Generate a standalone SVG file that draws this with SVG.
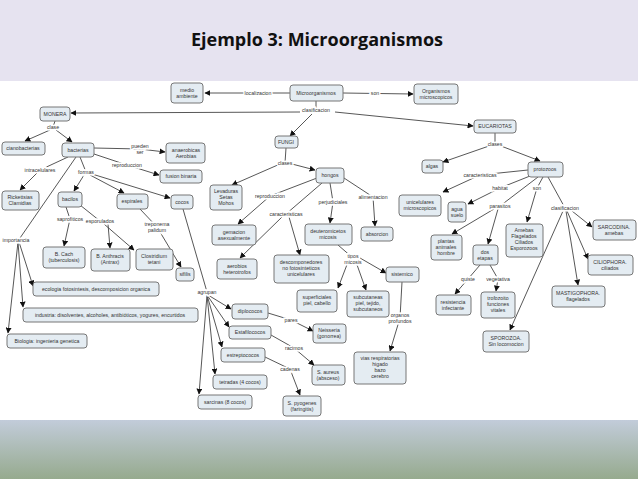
<svg xmlns="http://www.w3.org/2000/svg" width="638" height="479" viewBox="0 0 638 479">
<style>
.n rect{fill:#e4ecf2;stroke:#777;stroke-width:1}
text{font-family:"Liberation Sans",Arial,sans-serif;font-size:5.2px;fill:#333;text-anchor:middle}
.lb{paint-order:stroke;stroke:#fff;stroke-width:3px}
#c path{fill:none;stroke:#444;stroke-width:0.9}
.a{marker-end:url(#ar)}
</style>
<defs>
<marker id="ar" viewBox="0 0 10 10" refX="9" refY="5" markerWidth="6" markerHeight="6" orient="auto" markerUnits="userSpaceOnUse"><path d="M0,0 L10,5 L0,10 z" fill="#111"/></marker>
<linearGradient id="g" x1="0" y1="0" x2="0" y2="1"><stop offset="0" stop-color="#c2ccda"/><stop offset="1" stop-color="#96aa8e"/></linearGradient>
</defs>
<rect width="638" height="479" fill="#fff"/>
<rect width="638" height="81" fill="#e6e3f0"/>
<rect y="420" width="638" height="59" fill="url(#g)"/>
<text x="317" y="46" style="font-size:18px;font-weight:bold;fill:#111;text-anchor:middle;font-family:'Open Sans','Liberation Sans',sans-serif">Ejemplo 3: Microorganismos</text>

<g id="c">
<path class="a" d="M290,93 L205,93"/>
<path class="a" d="M343,93 L413,94"/>
<path d="M316,101 L316,110"/>
<path class="a" d="M300,112 L71,113"/>
<path class="a" d="M312,114 L290,136"/>
<path class="a" d="M335,112 L473,126"/>
<path d="M55,121 L53,127"/>
<path class="a" d="M50,130 L25,141"/>
<path class="a" d="M56,130 L72,142"/>
<path class="a" d="M94,148 L140,149 L165,152"/>
<path class="a" d="M94,154 L127,165 L159,175"/>
<path class="a" d="M68,157 L40,170 L20,190"/>
<path d="M80,157 L86,172"/>
<path class="a" d="M84,175 L74,191"/>
<path class="a" d="M90,175 L124,193"/>
<path class="a" d="M92,174 L170,198"/>
<path class="a" d="M66,207 L70,219 L64,246"/>
<path d="M80,205 L100,221"/>
<path class="a" d="M108,224 L110,248"/>
<path class="a" d="M104,224 L134,250"/>
<path class="a" d="M140,209 L157,227 L181,267"/>
<path d="M183,209 L207,292"/>
<path class="a" d="M208,295 L231,309"/>
<path class="a" d="M207,295 L229,327"/>
<path class="a" d="M207,295 L222,347"/>
<path class="a" d="M207,295 L215,374"/>
<path class="a" d="M207,295 L199,394"/>
<path d="M76,157 L20,238"/>
<path class="a" d="M19,242 L33,286"/>
<path class="a" d="M18,242 L23,307"/>
<path class="a" d="M18,242 L8,333"/>
<path class="a" d="M268,313 L291,320 L313,331"/>
<path class="a" d="M271,335 L294,348 L314,365"/>
<path class="a" d="M265,357 L290,369 L300,395"/>
<path d="M286,148 L285,163"/>
<path class="a" d="M280,164 L232,185"/>
<path class="a" d="M292,164 L315,170"/>
<path class="a" d="M317,178 L270,196 L238,224"/>
<path d="M322,183 L286,214"/>
<path class="a" d="M282,217 L240,258"/>
<path class="a" d="M289,217 L300,255"/>
<path class="a" d="M330,183 L333,202 L330,223"/>
<path class="a" d="M344,178 L373,197 L375,226"/>
<path d="M338,245 L353,258"/>
<path class="a" d="M348,262 L338,288"/>
<path class="a" d="M356,262 L366,290"/>
<path class="a" d="M360,258 L386,273"/>
<path class="a" d="M402,282 L400,318 L390,351"/>
<path d="M495,133 L495,144"/>
<path class="a" d="M489,146 L443,162"/>
<path class="a" d="M501,146 L540,161"/>
<path class="a" d="M528,170 L480,175 L443,192"/>
<path class="a" d="M530,176 L500,188 L468,204"/>
<path d="M538,177 L500,206"/>
<path class="a" d="M494,209 L452,234"/>
<path class="a" d="M498,209 L488,244"/>
<path class="a" d="M543,177 L537,188 L527,222"/>
<path d="M548,177 L565,208"/>
<path class="a" d="M572,211 L592,227"/>
<path class="a" d="M567,211 L588,259"/>
<path class="a" d="M566,211 L578,285"/>
<path class="a" d="M563,211 L510,330"/>
<path class="a" d="M480,265 L468,279 L455,294"/>
<path class="a" d="M490,265 L498,279 L496,291"/>
<g>
<text class="lb" x="258" y="95">localizacion</text>
<text class="lb" x="375" y="95">son</text>
<text class="lb" x="316" y="112">clasificacion</text>
<text class="lb" x="53" y="129">clase</text>
<text class="lb" x="140" y="148">pueden</text><text class="lb" x="140" y="154">ser</text>
<text class="lb" x="127" y="167">reproduccion</text>
<text class="lb" x="40" y="172">intracelulares</text>
<text class="lb" x="86" y="174">formas</text>
<text class="lb" x="70" y="221">saprofiticos</text>
<text class="lb" x="100" y="223">esporulados</text>
<text class="lb" x="157" y="226">treponema</text><text class="lb" x="157" y="232">palidum</text>
<text class="lb" x="16" y="242">importancia</text>
<text class="lb" x="207" y="294">agrupan</text>
<text class="lb" x="291" y="322">pares</text>
<text class="lb" x="294" y="350">racimos</text>
<text class="lb" x="290" y="371">cadenas</text>
<text class="lb" x="285" y="165">clases</text>
<text class="lb" x="270" y="198">reproduccion</text>
<text class="lb" x="286" y="216">caracteristicas</text>
<text class="lb" x="333" y="204">perjudiciales</text>
<text class="lb" x="373" y="199">alimentacion</text>
<text class="lb" x="353" y="258">tipos</text><text class="lb" x="353" y="264">micosis</text>
<text class="lb" x="400" y="317">organos</text><text class="lb" x="400" y="323">profundos</text>
<text class="lb" x="495" y="146">clases</text>
<text class="lb" x="480" y="177">caracteristicas</text>
<text class="lb" x="500" y="190">habitat</text>
<text class="lb" x="537" y="190">son</text>
<text class="lb" x="500" y="208">parasitos</text>
<text class="lb" x="565" y="210">clasificacion</text>
<text class="lb" x="468" y="281">quiste</text>
<text class="lb" x="498" y="281">vegetativa</text>
</g>
</g>

<g id="medio" class="n"><rect x="171" y="83" width="32" height="20" rx="3"/><text x="187" y="92">medio</text><text x="187" y="98">ambiente</text></g>
<g id="micro" class="n"><rect x="290" y="85" width="53" height="16" rx="3"/><text x="316" y="95">Microorganismos</text></g>
<g id="orgmic" class="n"><rect x="414" y="84" width="44" height="20" rx="3"/><text x="436" y="93">Organismos</text><text x="436" y="99">microscopicos</text></g>
<g id="monera" class="n"><rect x="40" y="107" width="30" height="14" rx="3"/><text x="55" y="116">MONERA</text></g>
<g id="fungi" class="n"><rect x="275" y="136" width="23" height="12" rx="3"/><text x="286" y="144">FUNGI</text></g>
<g id="eucariotas" class="n"><rect x="474" y="120" width="42" height="13" rx="3"/><text x="495" y="128">EUCARIOTAS</text></g>
<g id="ciano" class="n"><rect x="2" y="142" width="43" height="13" rx="3"/><text x="23" y="150">cianobacterias</text></g>
<g id="bacterias" class="n"><rect x="62" y="143" width="32" height="14" rx="3"/><text x="78" y="152">bacterias</text></g>
<g id="anaer" class="n"><rect x="166" y="143" width="39" height="20" rx="3"/><text x="186" y="152">anaerobicas</text><text x="186" y="158">Aerobias</text></g>
<g id="fusion" class="n"><rect x="160" y="170" width="42" height="13" rx="3"/><text x="181" y="178">fusion binaria</text></g>
<g id="ricke" class="n"><rect x="2" y="191" width="37" height="19" rx="3"/><text x="20" y="199">Rickettsias</text><text x="20" y="205">Clamidias</text></g>
<g id="bacilos" class="n"><rect x="58" y="192" width="24" height="15" rx="3"/><text x="70" y="201">bacilos</text></g>
<g id="espirales" class="n"><rect x="117" y="194" width="31" height="15" rx="3"/><text x="132" y="203">espirales</text></g>
<g id="cocos" class="n"><rect x="171" y="195" width="22" height="14" rx="3"/><text x="182" y="204">cocos</text></g>
<g id="levaduras" class="n"><rect x="210" y="185" width="32" height="25" rx="3"/><text x="226" y="193">Levaduras</text><text x="226" y="199">Setas</text><text x="226" y="205">Mohos</text></g>
<g id="hongos" class="n"><rect x="316" y="168" width="28" height="15" rx="3"/><text x="330" y="177">hongos</text></g>
<g id="gemacion" class="n"><rect x="212" y="225" width="44" height="20" rx="3"/><text x="234" y="234">gemacion</text><text x="234" y="240">asexualmente</text></g>
<g id="aerobios" class="n"><rect x="217" y="259" width="40" height="20" rx="3"/><text x="237" y="268">aerobios</text><text x="237" y="274">heterotrofos</text></g>
<g id="deutero" class="n"><rect x="305" y="224" width="47" height="21" rx="3"/><text x="328" y="233">deuteromicetos</text><text x="328" y="239">micosis</text></g>
<g id="absorcion" class="n"><rect x="361" y="227" width="32" height="14" rx="3"/><text x="377" y="236">absorcion</text></g>
<g id="descomp" class="n"><rect x="274" y="255" width="55" height="28" rx="3"/><text x="301" y="264">descomponedores</text><text x="301" y="270">no fotosinteticos</text><text x="301" y="276">unicelulares</text></g>
<g id="sistemico" class="n"><rect x="386" y="267" width="33" height="15" rx="3"/><text x="402" y="276">sistemico</text></g>
<g id="superf" class="n"><rect x="297" y="290" width="40" height="22" rx="3"/><text x="317" y="299">superficiales</text><text x="317" y="305">piel, cabello</text></g>
<g id="subcut" class="n"><rect x="347" y="291" width="42" height="26" rx="3"/><text x="368" y="299">subcutaneas</text><text x="368" y="305">piel, tejido,</text><text x="368" y="311">subcutaneos</text></g>
<g id="bcach" class="n"><rect x="43" y="247" width="42" height="21" rx="3"/><text x="64" y="256">B. Cach</text><text x="64" y="262">(tuberculosis)</text></g>
<g id="banth" class="n"><rect x="91" y="249" width="39" height="22" rx="3"/><text x="110" y="258">B. Anthracis</text><text x="110" y="264">(Antrax)</text></g>
<g id="clostr" class="n"><rect x="136" y="249" width="37" height="21" rx="3"/><text x="154" y="258">Clostridium</text><text x="154" y="264">tetani</text></g>
<g id="sifilis" class="n"><rect x="176" y="268" width="18" height="13" rx="3"/><text x="185" y="276">sifilis</text></g>
<g id="ecologia" class="n"><rect x="33" y="282" width="126" height="14" rx="3"/><text x="96" y="291">ecologia fotosintesis, descomposicion organica</text></g>
<g id="industria" class="n"><rect x="23" y="308" width="175" height="14" rx="3"/><text x="110" y="317">industria: disolventes, alcoholes, antibióticos, yogures, encurtidos</text></g>
<g id="biologia" class="n"><rect x="7" y="334" width="80" height="14" rx="3"/><text x="47" y="343">Biologia: ingenieria genetica</text></g>
<g id="diplo" class="n"><rect x="232" y="304" width="36" height="15" rx="3"/><text x="250" y="313">diplococos</text></g>
<g id="estafilo" class="n"><rect x="229" y="326" width="42" height="13" rx="3"/><text x="250" y="334">Estafilococos</text></g>
<g id="estrepto" class="n"><rect x="221" y="348" width="44" height="14" rx="3"/><text x="243" y="357">estreptococos</text></g>
<g id="tetradas" class="n"><rect x="213" y="375" width="54" height="14" rx="3"/><text x="240" y="384">tetradas (4 cocos)</text></g>
<g id="sarcinas" class="n"><rect x="198" y="395" width="54" height="14" rx="3"/><text x="225" y="404">sarcinas (8 cocos)</text></g>
<g id="neisseria" class="n"><rect x="313" y="324" width="33" height="19" rx="3"/><text x="329" y="332">Neisseria</text><text x="329" y="338">(gonorrea)</text></g>
<g id="aureus" class="n"><rect x="312" y="365" width="33" height="20" rx="3"/><text x="328" y="374">S. aureus</text><text x="328" y="380">(absceso)</text></g>
<g id="pyogenes" class="n"><rect x="283" y="396" width="38" height="20" rx="3"/><text x="302" y="405">S. pyogenes</text><text x="302" y="411">(faringitis)</text></g>
<g id="vias" class="n"><rect x="354" y="352" width="52" height="32" rx="3"/><text x="380" y="360">vias respiratorias</text><text x="380" y="366">higado</text><text x="380" y="372">bazo</text><text x="380" y="378">cerebro</text></g>
<g id="algas" class="n"><rect x="422" y="160" width="21" height="13" rx="3"/><text x="432" y="168">algas</text></g>
<g id="protozoos" class="n"><rect x="528" y="162" width="35" height="15" rx="3"/><text x="545" y="171">protozoos</text></g>
<g id="unicel" class="n"><rect x="399" y="195" width="42" height="21" rx="3"/><text x="420" y="204">unicelulares</text><text x="420" y="210">microscopicos</text></g>
<g id="agua" class="n"><rect x="448" y="202" width="18" height="20" rx="3"/><text x="457" y="211">agua</text><text x="457" y="217">suelo</text></g>
<g id="amebas" class="n"><rect x="506" y="224" width="37" height="33" rx="3"/><text x="524" y="232">Amebas</text><text x="524" y="238">Flagelados</text><text x="524" y="244">Ciliados</text><text x="524" y="250">Esporozoos</text></g>
<g id="sarcodina" class="n"><rect x="593" y="220" width="43" height="20" rx="3"/><text x="614" y="229">SARCODINA.</text><text x="614" y="235">amebas</text></g>
<g id="plantas" class="n"><rect x="431" y="235" width="31" height="25" rx="3"/><text x="446" y="243">plantas</text><text x="446" y="249">animales</text><text x="446" y="255">hombre</text></g>
<g id="dosetapas" class="n"><rect x="473" y="245" width="25" height="20" rx="3"/><text x="485" y="254">dos</text><text x="485" y="260">etapas</text></g>
<g id="cilio" class="n"><rect x="588" y="255" width="45" height="20" rx="3"/><text x="610" y="264">CILIOPHORA.</text><text x="610" y="270">ciliados</text></g>
<g id="mastigo" class="n"><rect x="552" y="286" width="53" height="21" rx="3"/><text x="578" y="295">MASTIGOPHORA.</text><text x="578" y="301">flagelados</text></g>
<g id="resist" class="n"><rect x="436" y="295" width="35" height="20" rx="3"/><text x="453" y="304">resistencia</text><text x="453" y="310">infectante</text></g>
<g id="trofo" class="n"><rect x="481" y="292" width="34" height="26" rx="3"/><text x="498" y="300">trofozoito</text><text x="498" y="306">funciones</text><text x="498" y="312">vitales</text></g>
<g id="sporozoa" class="n"><rect x="483" y="331" width="46" height="21" rx="3"/><text x="506" y="340">SPOROZOA.</text><text x="506" y="346">Sin locomocion</text></g>
</svg>
